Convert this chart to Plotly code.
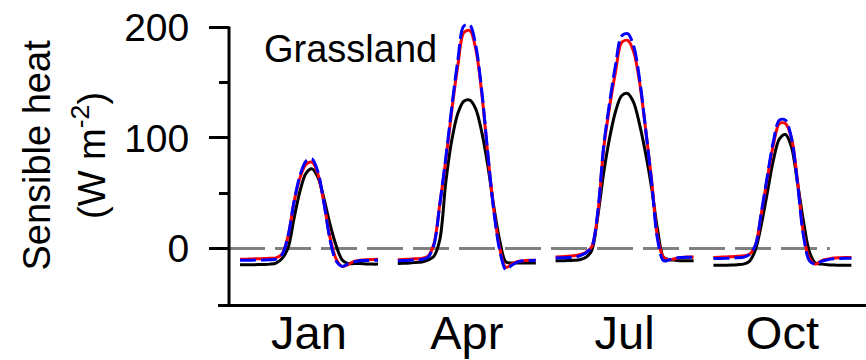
import plotly.graph_objects as go

# ---------------- data ----------------
MONTHS = ["Jan", "Apr", "Jul", "Oct"]
HOURS = list(range(24))
MONTH_SPACING = 26.3  # hours of axis between start of consecutive monthly diurnal cycles

# Sensible heat (W m-2), hourly mean diurnal cycles
BLACK = {
    "Jan": [-14.5, -14.5, -14.5, -14.4, -14.3, -14.0, -13.0, -9.0, 0.5, 27, 52, 68, 72, 64, 45, 22, 3, -10, -13.5, -13.5, -13.5, -13.8, -14, -14],
    "Apr": [-13.5, -13.3, -13, -12.5, -12, -10.5, -7, 8, 60, 98, 122, 133, 134, 126, 105, 75, 38, 7, -12, -13, -13, -13, -13, -13],
    "Jul": [-11, -11, -10.8, -10.5, -10, -8, -2, 28, 68, 100, 124, 138, 140, 132, 112, 86, 55, 17, -8, -10, -10.5, -11, -11, -11],
    "Oct": [-15, -15, -15, -14.8, -14.5, -14, -11.5, -1, 22, 51, 80, 99, 103, 92, 60, 25, -3, -13, -14, -14.5, -14.8, -15, -15, -15],
}
RED = {
    "Jan": [-9.5, -9.5, -9.3, -9.2, -9.0, -8.8, -8.3, -5, 11, 42, 64, 76, 78, 67, 41, 10, -9, -16, -14.5, -11.5, -10.5, -10, -9.8, -9.7],
    "Apr": [-10, -9.8, -9.5, -9.2, -8.8, -7, 4, 40, 80, 125, 165, 195, 197, 180, 140, 85, 35, 0, -17, -14, -11.5, -11, -10.5, -10.5],
    "Jul": [-7.5, -7.3, -7, -6.5, -5.5, -3.5, 1.5, 30, 90, 128, 160, 186, 188, 178, 150, 108, 62, 10, -8, -10, -9, -8, -7.6, -7.5],
    "Oct": [-8, -7.8, -7.5, -7.3, -7, -6.5, -5, 3, 32, 64, 94, 113, 113, 100, 62, 14, -9, -14, -11, -9.5, -8.5, -8.2, -8, -8],
}
BLUE = {
    "Jan": [-10.5, -10.5, -10.4, -10.3, -10.2, -10, -9.5, -5.5, 11, 42, 66, 79, 81, 69, 41, 8, -11, -16, -14, -12, -11, -10.8, -10.6, -10.5],
    "Apr": [-11, -10.8, -10.5, -10.2, -9.8, -8, 3, 40, 82, 128, 170, 201, 202, 183, 142, 86, 34, -2, -19, -15, -12, -11, -10.7, -10.5],
    "Jul": [-8.5, -8.3, -8, -7.5, -6.5, -4, 1.5, 32, 92, 132, 166, 192, 194, 183, 153, 108, 60, 8, -11, -10, -8.5, -8, -7.8, -7.8],
    "Oct": [-9, -9, -8.8, -8.5, -8.2, -7.8, -5.5, 3, 33, 66, 97, 116, 116, 100, 60, 12, -11, -14, -11.5, -10, -9.2, -9, -8.8, -8.8],
}
Y_TICKS = [0, 100, 200]
Y_MINOR_TICKS = [50, 150]
ZERO_LINE_X = [-1.83, 98.3]
PANEL_LABEL = "Grassland"

FONT = "Liberation Sans, Arial, sans-serif"


def build_xy(series):
    xs, ys = [], []
    for i, m in enumerate(MONTHS):
        xs += [i * MONTH_SPACING + h for h in HOURS] + [None]
        ys += list(series[m]) + [None]
    return xs, ys


fig = go.Figure()

for series, color, dash in [(BLACK, "#000000", "solid"), (RED, "#ff0000", "solid"), (BLUE, "#0000ff", "16px,5px")]:
    x, y = build_xy(series)
    fig.add_trace(go.Scatter(
        x=x, y=y, mode="lines", connectgaps=False,
        line=dict(color=color, width=3, dash=dash, shape="spline", smoothing=0.9),
        showlegend=False, hoverinfo="skip",
    ))

tick_centers = [i * MONTH_SPACING + (HOURS[0] + HOURS[-1]) / 2 for i in range(len(MONTHS))]

YPOS = 0.017

fig.update_layout(
    width=866, height=360, autosize=False,
    margin=dict(l=218, r=0, t=16, b=56, pad=0),
    paper_bgcolor="white", plot_bgcolor="white",
    font=dict(family=FONT, color="black"),
    xaxis=dict(
        range=[-3.667, 104.33], showgrid=False, zeroline=False, automargin=False,
        showline=True, linewidth=3, linecolor="black",
        ticks="", ticklen=0, tickvals=tick_centers, ticktext=MONTHS,
        tickfont=dict(size=47, family=FONT), ticklabelstandoff=-14,
    ),
    yaxis=dict(
        range=[-50, 210], anchor="free", position=YPOS, automargin=False,
        showgrid=False, zeroline=False, showline=False,
        ticks="outside", ticklen=20, tickwidth=3, tickcolor="black",
        tickvals=Y_TICKS, tickfont=dict(size=39, family=FONT),
        ticklabelstandoff=12,
        minor=dict(tickvals=Y_MINOR_TICKS, ticks="outside", ticklen=10, tickwidth=3, tickcolor="black"),
    ),
    shapes=[
        dict(type="line", xref="x", yref="y", x0=ZERO_LINE_X[0], x1=ZERO_LINE_X[1], y0=0, y1=0,
             line=dict(color="#808080", width=3, dash="36px,10px"), layer="below"),
        dict(type="line", xref="paper", yref="y", x0=YPOS, x1=YPOS, y0=-50, y1=200.5,
             line=dict(color="black", width=3)),
    ],
    annotations=[
        dict(text=PANEL_LABEL, xref="paper", yref="y", x=0.0679, y=180, xanchor="left", yanchor="middle",
             showarrow=False, font=dict(size=38, family=FONT, color="black")),
        dict(text="Sensible heat", xref="paper", yref="y", x=-0.2793, y=84, xanchor="center", yanchor="middle",
             textangle=-90, showarrow=False, font=dict(size=38, family=FONT, color="black")),
        dict(text="(W m<sup>-2</sup>)", xref="paper", yref="y", x=-0.2, y=84, xanchor="center", yanchor="middle",
             textangle=-90, showarrow=False, font=dict(size=38, family=FONT, color="black")),
    ],
)

fig.write_html("out.html")
